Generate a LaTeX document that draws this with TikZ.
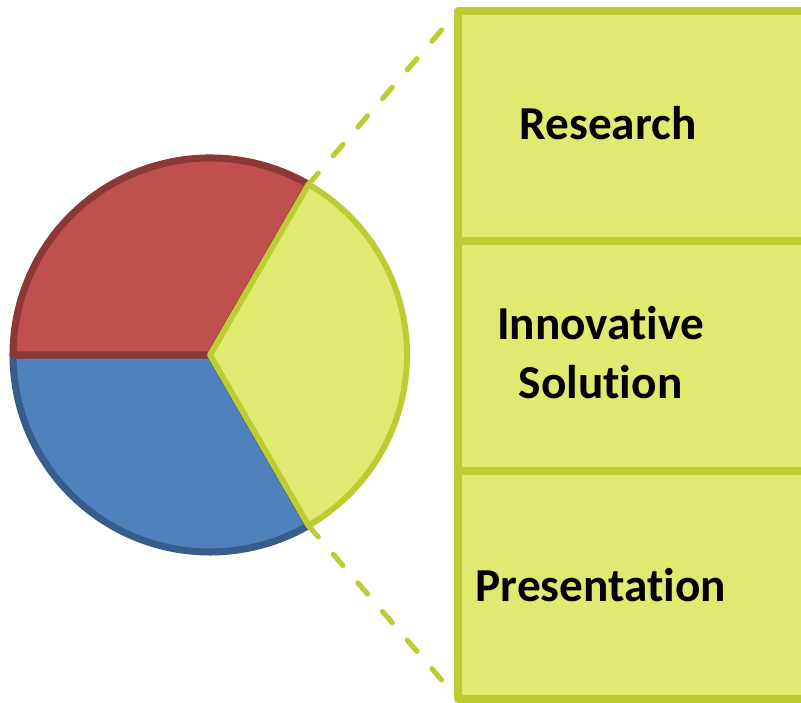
\documentclass[tikz,border=0pt]{standalone}
\usepackage{tikz}
\usepackage{tkz-euclide}
\usetikzlibrary{calc}
\usepackage{fontspec}
\setmainfont[Ligatures=NoCommon]{Carlito}
\definecolor{pieRed}{RGB}{192,80,77}
\definecolor{pieRedLine}{RGB}{140,56,54}
\definecolor{pieBlue}{RGB}{79,129,189}
\definecolor{pieBlueLine}{RGB}{56,93,138}
\definecolor{pieGreen}{RGB}{224,234,112}
\definecolor{pieGreenLine}{RGB}{190,204,52}

\begin{document}
\begin{tikzpicture}[scale=1,
    boxline/.style={fill=pieGreen,draw=pieGreenLine,line width=4pt},
    dashline/.style={draw=pieGreenLine,line width=2.9pt,line cap=round,dash pattern=on 8.5pt off 13pt},
    boxtext/.style={font=\bfseries\fontsize{26.9}{33.6}\selectfont,align=center,inner sep=0pt}]
    \clip (0,0) rectangle (16.02,14.06);
    \tkzDefPoint(4.2,6.96){O}
    \tkzDefShiftPoint[O](60:3.94){A}
    \tkzDefShiftPoint[O](180:3.94){B}
    \tkzDefShiftPoint[O](300:3.94){C}
    % boxes
    \tkzDefPoint(9.16,13.84){P1}
    \tkzDefPoint(9.16,9.24){P2}
    \tkzDefPoint(9.16,4.64){P3}
    \tkzDefPoint(9.16,0.08){P4}
    \tkzDefPoint(16.4,13.84){Q1}
    \tkzDefPoint(16.4,9.24){Q2}
    \tkzDefPoint(16.4,4.64){Q3}
    \tkzDefPoint(16.4,0.08){Q4}
    \tkzDrawPolygon[boxline](P1,Q1,Q2,P2)
    \tkzDrawPolygon[boxline](P2,Q2,Q3,P3)
    \tkzDrawPolygon[boxline](P3,Q3,Q4,P4)
    % pie
    \tkzDrawSector[fill=pieBlue,draw=pieBlueLine,line width=4pt,line join=round](O,B)(C)
    \tkzDrawSector[fill=pieRed,draw=pieRedLine,line width=4pt,line join=round](O,A)(B)
    \tkzDrawSector[fill=pieGreen,draw=pieGreenLine,line width=3.4pt,line join=round](O,C)(A)
    \tkzDrawSegment[dashline](A,P1)
    \tkzDrawSegment[dashline](C,P4)
    % labels
    \tkzDefPoint(12.16,11.26){R}
    \tkzDefPoint(12.01,7.01){S}
    \tkzDefPoint(12.02,2.02){T}
    \node[boxtext,anchor=base] (research) at (R) {Research};
    \node[boxtext,anchor=center] (solution) at (S) {Innovative\\Solution};
    \node[boxtext,anchor=base] (presentation) at (T) {Presentation};
\end{tikzpicture}
\end{document}
